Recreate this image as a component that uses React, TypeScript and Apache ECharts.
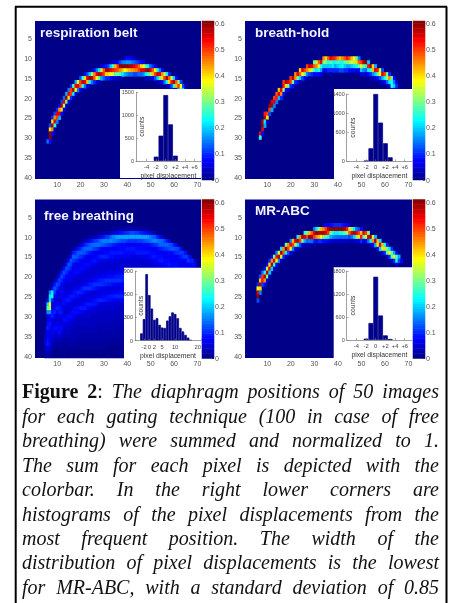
import React, { useEffect, useRef } from "react";
import * as echarts from "echarts";

// Heatmap columns: [column, first row, values in hundredths going down]
const beltColumns: number[][] = [
  [6,31,14],[7,27,12,40,60,60,8],[8,25,10,40,58,45,8],[9,24,12,45,55,25,3],[10,23,10,55,50,15],[11,22,8,45,55,18],
  [12,21,12,58,40,8],[13,20,14,55,35,5],[14,19,18,60,30,5],[15,18,15,55,40,6],[16,17,10,50,50,10],[17,17,28,58,22,3],
  [18,16,18,55,38,5],[19,16,35,55,15],[20,15,12,50,48,8],[21,15,25,58,25,3],[22,14,8,40,55,14],[23,14,12,55,42,6],
  [24,14,20,60,22,3],[25,13,5,32,58,15],[26,13,8,45,48,10],[27,13,15,55,38,6],[28,13,22,58,28,4],[29,12,5,35,55,18],
  [30,12,7,48,50,14],[31,12,9,58,40,10],[32,12,12,58,40,10],[33,11,3,20,55,38,8],[34,11,4,28,52,35,6],[35,11,6,42,50,28,5],
  [36,11,8,50,48,30,4],[37,11,12,60,45,25,3],[38,11,15,60,42,22],[39,10,5,16,60,38,18],[40,10,8,17,60,40,16],[41,10,8,17,58,42,14],
  [42,10,6,15,58,44,14],[43,10,4,14,55,45,12],[44,11,12,52,46,12],[45,11,10,48,50,14],[46,11,8,40,55,14],[47,11,7,38,55,16],
  [48,12,28,58,22,3],[49,12,22,60,26,4],[50,12,14,55,32,5],[51,12,10,48,42,7],[52,12,6,38,50,12],[53,13,25,56,20,3],
  [54,13,15,55,30,4],[55,13,8,45,40,8],[56,14,35,50,14],[57,14,22,58,24,3],[58,14,10,48,40,6],[59,15,35,52,12],
  [60,15,20,58,25,3],[61,15,8,48,42,6],[62,16,32,50,18],[63,16,12,38,30,8],[64,17,12,20,5],[65,17,4,6],
];
const holdColumns: number[][] = [
  [7,29,55,25],[8,26,58,60,55,8],[9,24,52,58,22,18],[10,24,50,40,5],[11,22,60,50,12],[12,21,55,58,18],[13,20,50,55,15],
  [14,19,48,52,15],[15,18,42,55,18],[16,18,55,45,10],[17,16,50,52,32,8],[18,16,58,40,8],[19,16,55,30,5],[20,15,50,50,10],
  [21,15,58,30,8],[22,14,45,45,10],[23,14,55,30,8],[24,13,40,48,20,3],[25,13,55,38,12],[26,13,50,30,8],[27,12,50,45,15],
  [28,12,58,40,12,3],[29,12,55,35,10],[30,11,30,48,25,8],[31,11,35,45,22,7],[32,11,48,35,25,8],[33,11,55,25,18,6],
  [34,10,45,30,20,6],[35,10,40,30,20,8],[36,10,48,25,20,10],[37,10,55,28,20,10,3],[38,10,52,24,22,10],[39,10,50,24,18,10],
  [40,10,45,26,20,10],[41,10,42,25,22,12],[42,10,45,24,24,12],[43,10,48,28,20,10],[44,10,52,30,18,10],[45,10,48,33,18,8],
  [46,10,42,35,20,8],[47,10,38,34,22,8],[48,10,30,40,24,6],[49,10,15,48,28,8],[50,11,50,36,20,6],[51,11,58,30,16,5],
  [52,11,60,25,14,5],[53,11,20,52,22,8],[54,12,58,25,10,3],[55,12,40,42,16,3],[56,12,18,55,20,6],[57,13,52,28,8],
  [58,13,35,38,12,3],[59,13,12,55,18,5],[60,14,50,24,8],[61,14,30,32,14,3],[62,14,10,45,22,5],[63,15,28,24,25,8],
  [64,15,8,15,20,8],[65,16,6,10,5],
];
const abcColumns: number[][] = [
  [6,22,10,38,55,60,12],[7,20,12,42,58,40,15],[8,19,14,50,52,12],[9,18,8,25,58,45,8],[10,17,8,35,58,30,5],[11,16,10,40,55,20,3],
  [12,15,8,45,58,20],[13,15,30,55,25,4],[14,14,15,52,38,8],[15,14,35,58,15],[16,13,22,58,35,4],[17,13,45,48,10],[18,12,30,60,22,3],
  [19,12,45,50,12],[20,11,15,55,38,7],[21,11,42,50,15],[22,11,55,32,7],[23,10,22,58,22,3],[24,10,45,50,12],[25,10,58,30,6],
  [26,9,25,55,18,3],[27,9,30,50,14,3],[28,9,42,60,15,3],[29,9,48,58,14],[30,8,15,55,50,10,3],[31,8,22,60,45,8],[32,8,30,58,42,10],
  [33,8,42,58,38,10],[34,7,5,45,58,30,8],[35,7,7,50,55,28,8],[36,7,7,58,50,25,6],[37,7,8,60,30,18,5],[38,7,9,60,25,16,5],
  [39,7,10,60,22,15,4],[40,7,10,60,22,14,4],[41,7,10,60,24,14,4],[42,7,9,60,26,14,4],[43,7,8,58,28,14,4],[44,7,7,52,32,14,4],
  [45,7,5,40,48,12,3],[46,8,30,55,15,3],[47,8,22,58,20,4],[48,8,15,55,30,5],[49,8,12,50,40,7],[50,8,8,42,52,10],[51,9,55,28,5],
  [52,9,50,35,8],[53,9,30,55,14],[54,10,58,22,5],[55,10,35,45,8],[56,10,18,58,18],[57,11,42,40,8],[58,11,20,55,20],[59,12,42,35,6],
  [60,12,25,40,10],[61,12,10,30,28,5],[62,13,22,38,10],[63,13,10,28,28,5],[64,14,18,35,10],[65,14,8,28,25,5],[66,15,18,12],[67,16,8],
];
// Free breathing is dense: one character per row, each step of LEVELS being 0.008
const LEVELS = "0123456789abcdefghijklmnopqrstuvwxyzABCDEFGHIJKLMNOPQRSTUVWXYZ";
const LEVEL_STEP = 0.008;
const freeColumns: [number, number, string][] = [
  [5,32,"124566532"],[6,26,"8qzk88ac98ab853"],[7,23,"2krrLIk99ba7788642"],[8,22,"3asuc89bc9789765421"],[9,21,"3bgea78ac967a8643211"],
  [10,20,"3afd9779ca769a7532110"],[11,19,"3aed97779bb8679a753211"],[12,18,"3bfc88a978ab868a8543211"],[13,17,"3afc98678aa768a865432211"],
  [14,16,"3afd986678b9669a765432211"],[15,15,"3agea98667ab867a9765433211"],[16,14,"3ageb898668ba769a8654433211"],
  [17,13,"3bhea898667ab868a97554433211"],[18,13,"6dgc89a7668ba77aa75544332211"],[19,12,"3agfb89a7668ca77aa75544332211"],
  [20,12,"5cgd98a9667ac878b965544332211"],[21,11,"39fgc89a7668cb879b865544332211"],[22,11,"4chfa8a97679da77ab765544332211"],
  [23,10,"26ehd98a8667ad978ba665544332211"],[24,10,"39ghb89a7668bd878b9665544332211"],[25,10,"3bhga8a96679cc779b8655544332211"],
  [26,10,"4die99b8667adb77ab7655544332211"],[27,9,"15eid8aa7668ada78ba6655444332211"],[28,9,"27gib8b96678bd979c86655443332211"],
  [29,9,"2aiha9c86679cd879c76555443332211"],[30,9,"3bjg99c86679cc88ab76555443332211"],[31,9,"3djf9ac76679dc78ab76555443322211"],
  [32,9,"4eje9ab7668adb78ba66555443322211"],[33,8,"15hkd9ba7668adb78ba66554443322111"],[34,8,"26jjc9ba7668ada79b966554443322111"],
  [35,8,"28lib9b97668bda79c965554433322111"],[36,8,"29mha9b97668bd979c865554433322111"],[37,8,"3amgaab96679bd97ac865544433222111"],
  [38,8,"3bmfaab86679cc97ac865544433222111"],[39,8,"3cmfaaa8666"],[40,8,"4dme9ba8666"],[41,8,"4emd9ba8666"],[42,8,"4fmd9ba7666"],
  [43,8,"4fmd9ba7666"],[44,8,"3emd9ab7666"],[45,8,"3dme9ab8666"],[46,8,"3cme9ab8666"],[47,8,"2bmfaab8666"],[48,8,"2amga9b9666"],
  [49,8,"19lha9b9766"],[50,8,"17jib9aa766"],[51,9,"5hjc9ab8666"],[52,9,"3gkd9ab9766"],[53,10,"cjea9aa866"],[54,10,"9ihb9ab866"],
  [55,10,"6hhc9ab966"],[56,11,"fhd99aa86"],[57,11,"bhe99aa96"],[58,11,"8gfa9ab96"],[59,12,"fga99aa8"],[60,12,"bgb99aa8"],
  [61,12,"8fd98ab9"],[62,13,"eda99ab"],[63,13,"aeb98aa"],[64,14,"dd98aa"],[65,14,"ae998a"],[66,15,"cd98a"],[67,15,"8c98"],
  [68,16,"ca8"],[69,16,"6a6"],[70,17,"3"],
];

// Histograms: [displacement, counts]
const beltHist = [[-2,95],[-1,553],[0,1440],[1,800],[2,116]];
const holdHist = [[-2,10],[-1,270],[0,1400],[1,805],[2,375],[3,83]];
const freeHist = [[-3,95],[-2,280],[-1,860],[0,590],[1,415],[2,270],[3,290],[4,205],[5,170],[6,165],[7,260],[8,315],[9,365],[10,345],[11,290],[12,165],[13,120],[14,75],[15,40],[16,10]];
const abcHist = [[-2,35],[-1,443],[0,1650],[1,640],[2,120],[3,25]];

const titles = ["respiration belt", "breath-hold", "free breathing", "MR-ABC"];
const countTicks = [[0,500,1000,1500],[0,600,1000,1400],[0,300,600,900],[0,600,1200,1800]];
const displacementTicks = [[-4,-2,0,2,4,6],[-4,-2,0,2,4,6],[-2,0,2,5,10,20],[-4,-2,0,2,4,6]];
const colorbarTicks = [0,0.1,0.2,0.3,0.4,0.5,0.6];
const JET = ["#000080","#0000ff","#0080ff","#00ffff","#80ff80","#ffff00","#ff8000","#ff0000","#800000"];
const BAR_TOP = 0.61;

const captionLines = [
  ["Figure","2:","The","diaphragm","positions","of","50","images"],
  ["for","each","gating","technique","(100","in","case","of","free"],
  ["breathing)","were","summed","and","normalized","to","1."],
  ["The","sum","for","each","pixel","is","depicted","with","the"],
  ["colorbar.","In","the","right","lower","corners","are"],
  ["histograms","of","the","pixel","displacements","from","the"],
  ["most","frequent","position.","The","width","of","the"],
  ["distribution","of","pixel","displacements","is","the","lowest"],
  ["for","MR-ABC,","with","a","standard","deviation","of","0.85"],
];

const layout = [
  { heat:[35,21,166,158], bar:[202,21,12,159], inset:[120,89,81,89], hist:[136,92.3,65,68.7], xr:[-6.2,7.35], title:[40,32] },
  { heat:[245,21,167,158], bar:[413,21,12,159], inset:[334,89,78,90], hist:[346.7,94,65.3,67.3], xr:[-6,7.5], title:[255,32] },
  { heat:[35,199.5,166,158.5], bar:[202,199.5,12,159], inset:[124,267.7,77,90.5], hist:[135,271,66,69.7], xr:[-5.5,20], title:[44,215] },
  { heat:[245,199.5,167,158.5], bar:[413,199.5,12,159], inset:[333.7,267.3,78.3,90.7], hist:[346.7,271,65.3,69], xr:[-6,7.5], title:[255,210] },
];

const SANS = "'Liberation Sans', Arial, sans-serif";
const SERIF = "'Liberation Serif', 'Times New Roman', serif";
const LABEL = "#555";

function numericCells(cols: number[][]) {
  const out: number[][] = [];
  cols.forEach(([col, start, ...vals]) => vals.forEach((v, i) => out.push([col - 1, start + i - 1, v / 100])));
  return out;
}
function stringCells(cols: [number, number, string][]) {
  const out: number[][] = [];
  cols.forEach(([col, start, s]) => s.split("").forEach((c, i) => {
    if (start + i <= 40) out.push([col - 1, start + i - 1, LEVELS.indexOf(c) * LEVEL_STEP]);
  }));
  return out;
}

function captionGraphics() {
  const ctx = document.createElement("canvas").getContext("2d")!;
  const size = 20, left = 22, right = 439, first = 391.2, step = 24.46;
  const ital = `italic ${size}px ${SERIF}`, bold = `bold ${size}px ${SERIF}`, reg = `${size}px ${SERIF}`;
  const els: any[] = [];
  captionLines.forEach((words, li) => {
    const parts = words.map((w, wi) => {
      if (li === 0 && wi === 0) return [{ t: w, f: bold }];
      if (li === 0 && wi === 1) return [{ t: "2", f: bold }, { t: ":", f: reg }];
      return [{ t: w, f: ital }];
    });
    const widths = parts.map((p) => p.reduce((s, r) => { ctx.font = r.f; return s + ctx.measureText(r.t).width; }, 0));
    const gap = (right - left - widths.reduce((a, b) => a + b, 0)) / (words.length - 1);
    let x = left;
    parts.forEach((p, i) => {
      let px = x;
      p.forEach((r) => {
        ctx.font = r.f;
        els.push({ type: "text", x: px, y: first + li * step, z: 20, style: { text: r.t, font: r.f, fill: "#111", textAlign: "left", textVerticalAlign: "middle", verticalAlign: "middle" } });
        px += ctx.measureText(r.t).width;
      });
      x += widths[i] + gap;
    });
  });
  return els;
}

function buildOption() {
  const grid: any[] = [], xAxis: any[] = [], yAxis: any[] = [], series: any[] = [], graphic: any[] = [];
  const mapped: number[] = [];
  const panels = [numericCells(beltColumns), numericCells(holdColumns), stringCells(freeColumns), numericCells(abcColumns)];
  const hists = [beltHist, holdHist, freeHist, abcHist];
  const colCats = Array.from({ length: 71 }, (_, i) => String(i + 1));
  const rowCats = Array.from({ length: 40 }, (_, i) => String(i + 1));
  const levelCats = Array.from({ length: 64 }, (_, i) => String(i));
  const levelCells = levelCats.map((_, i) => [0, i, ((i + 0.5) / 64) * BAR_TOP]);
  const tickLabel = { fontFamily: SANS, fontSize: 7, color: LABEL };

  layout.forEach((L, p) => {
    const g = grid.length, xi = xAxis.length, yi = yAxis.length;
    grid.push({ left: L.heat[0], top: L.heat[1], width: L.heat[2], height: L.heat[3], show: true, backgroundColor: "#000088", borderWidth: 0 });
    grid.push({ left: L.bar[0], top: L.bar[1], width: L.bar[2], height: L.bar[3] });
    grid.push({ left: L.hist[0], top: L.hist[1], width: L.hist[2], height: L.hist[3] });

    xAxis.push({ type: "category", gridIndex: g, data: colCats, position: "bottom", axisLine: { show: false }, axisTick: { show: false }, splitLine: { show: false },
      axisLabel: { ...tickLabel, margin: 2, interval: (_: number, v: string) => Number(v) % 10 === 0 } });
    yAxis.push({ type: "category", gridIndex: g, data: rowCats, inverse: true, axisLine: { show: false }, axisTick: { show: false }, splitLine: { show: false },
      axisLabel: { ...tickLabel, margin: 3, interval: (_: number, v: string) => Number(v) % 5 === 0 } });
    mapped.push(series.length);
    series.push({ type: "heatmap", xAxisIndex: xi, yAxisIndex: yi, data: panels[p], z: 2, progressive: 0 });

    xAxis.push({ type: "category", gridIndex: g + 1, data: ["c"], show: false });
    yAxis.push({ type: "category", gridIndex: g + 1, data: levelCats, show: false });
    yAxis.push({ type: "value", gridIndex: g + 1, position: "right", min: 0, max: BAR_TOP, splitLine: { show: false },
      axisLine: { show: false }, axisTick: { show: true, inside: true, length: 2, lineStyle: { color: "#333", width: 0.6 }, customValues: colorbarTicks },
      axisLabel: { ...tickLabel, margin: 1, customValues: colorbarTicks, formatter: (v: number) => String(v) } });
    mapped.push(series.length);
    series.push({ type: "heatmap", xAxisIndex: xi + 1, yAxisIndex: yi + 1, data: levelCells, z: 2, progressive: 0 });

    const hx = displacementTicks[p], hy = countTicks[p];
    const signed = p !== 2;
    xAxis.push({ type: "value", gridIndex: g + 2, min: L.xr[0], max: L.xr[1], z: 6, splitLine: { show: false },
      axisLine: { lineStyle: { color: "#777", width: 0.7 }, onZero: false }, axisTick: { inside: true, length: 2, lineStyle: { color: "#777", width: 0.6 }, customValues: hx },
      axisLabel: { fontFamily: SANS, fontSize: 5.8, color: "#444", margin: 3, customValues: hx, alignMaxLabel: p === 2 ? "right" : undefined, hideOverlap: false, showMaxLabel: true, formatter: (v: number) => (signed && v > 0 ? "+" + v : String(v)) },
      name: "pixel displacement", nameLocation: "middle", nameGap: 11, nameMoveOverlap: false, nameTextStyle: { fontFamily: SANS, fontSize: 6.8, color: "#333" } });
    yAxis.push({ type: "value", gridIndex: g + 2, min: 0, max: hy[hy.length - 1], z: 6, splitLine: { show: false },
      axisLine: { show: true, lineStyle: { color: "#777", width: 0.7 }, onZero: false }, axisTick: { show: true, inside: true, length: 2, lineStyle: { color: "#777", width: 0.6 }, customValues: hy },
      axisLabel: { fontFamily: SANS, fontSize: 5.5, color: "#444", margin: 2, customValues: hy, formatter: (v: number) => String(v) },
      name: "counts", nameLocation: "middle", nameRotate: 90, nameGap: -9, nameMoveOverlap: false, nameTextStyle: { fontFamily: SANS, fontSize: 6.8, color: "#333" } });
    series.push({ type: "bar", xAxisIndex: xi + 2, yAxisIndex: yi + 3, data: hists[p], barWidth: "100%", z: 5, itemStyle: { color: "#00008a", borderColor: "#00008a", borderWidth: 0.7 } });

    graphic.push({ type: "rect", z: 3, shape: { x: L.inset[0], y: L.inset[1], width: L.inset[2], height: L.inset[3] }, style: { fill: "#fff" } });
    graphic.push({ type: "text", x: L.title[0], y: L.title[1], z: 10, style: { text: titles[p], font: `bold 13.5px ${SANS}`, fill: "#f4f4ff", verticalAlign: "middle", textVerticalAlign: "middle" } });
  });

  const frame = { stroke: "#000", lineWidth: 2 };
  graphic.push({ type: "line", z: 20, shape: { x1: 15.7, y1: 6.5, x2: 15.7, y2: 603 }, style: frame });
  graphic.push({ type: "line", z: 20, shape: { x1: 15, y1: 6.7, x2: 447, y2: 6.7 }, style: frame });
  graphic.push({ type: "line", z: 20, shape: { x1: 446.5, y1: 6.5, x2: 446.5, y2: 603 }, style: frame });
  graphic.push(...captionGraphics());

  return {
    animation: false,
    backgroundColor: "#fff",
    grid, xAxis, yAxis, series, graphic,
    visualMap: { show: false, type: "continuous", min: 0, max: BAR_TOP, dimension: 2, seriesIndex: mapped, inRange: { color: JET } },
  };
}

export default function App() {
  const ref = useRef<HTMLDivElement>(null);
  useEffect(() => {
    const chart = echarts.init(ref.current!, undefined, { renderer: "svg" });
    chart.setOption(buildOption() as any);
    return () => chart.dispose();
  }, []);
  return <div ref={ref} style={{ position: "fixed", left: 0, top: 0, width: 450, height: 603, filter: "blur(0.45px)" }} />;
}
